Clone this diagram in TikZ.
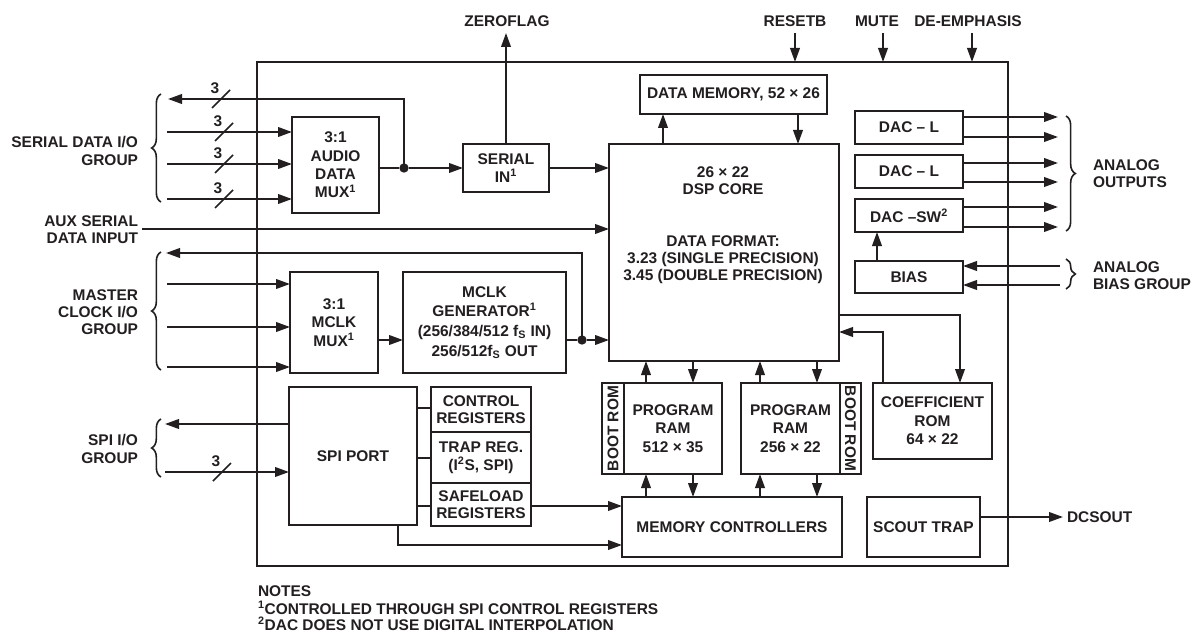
\documentclass[tikz,border=0pt]{standalone}
\usepackage{fontspec}
\setmainfont{Liberation Sans}
\usetikzlibrary{arrows.meta,decorations.pathreplacing,calc}
\definecolor{ink}{HTML}{231F20}
\newcommand\dfont{\fontsize{11.6pt}{12.8pt}\selectfont\bfseries}
\tikzset{
 every node/.style={font=\dfont, inner sep=0pt, outer sep=0pt, align=center, text=ink},
 wire/.style={line width=1.45pt, draw=ink},
 arr/.style={wire, -{Triangle[length=10.5pt,width=7.2pt]}},
 box/.style={draw=ink, line width=1.45pt, fill=white},
 dotc/.style={circle, fill=ink, minimum size=7pt},
 bus/.style={line width=1.2pt, draw=ink},
 br/.style={wire, line width=1.2pt, decorate, decoration={brace, amplitude=7pt}},
}
\newcommand\blk[7][]{\node[box,#1, minimum width={(#5-#3)*0.75pt}, minimum height={(#6-#4)*0.75pt}] (#2) at ({(#3+#5)/2},{(#4+#6)/2}) {#7};}
\newcommand\busmark[3]{\draw[bus] (#2-9,#3+9) -- (#2+9,#3-9); \node (#1) at (#2-6,#3-11) {3};}
\begin{document}
\begin{tikzpicture}[x=0.75pt,y=-0.75pt]
\path[use as bounding box] (0,0) rectangle (1193,635);
% chip outline
\blk[line width=2pt]{chip}{257}{62}{1008}{566}{}
% blocks
\blk{dmem}{640}{75}{827}{114}{DATA MEMORY, 52 × 26}
\blk{dsp}{609}{144}{839}{361}{}
\node (dspt1) at (723,181) {26 × 22\\DSP CORE};
\node (dspt2) at (723,260) {DATA FORMAT:\\3.23 (SINGLE PRECISION)\\3.45 (DOUBLE PRECISION)};
\blk{sin}{463}{144}{549}{192}{SERIAL\\[1pt]IN\textsuperscript{1}}
\blk{amux}{292}{117}{379}{213}{3:1\\[1pt]AUDIO\\[1pt]DATA\\[1pt]MUX\textsuperscript{1}}
\blk{cmux}{290}{272}{378}{373}{3:1\\[1pt]MCLK\\[1pt]MUX\textsuperscript{1}}
\blk{mgen}{403}{272}{566}{373}{MCLK\\[2pt]GENERATOR\textsuperscript{1}\\[2pt](256/384/512 f\textsubscript{S} IN)\\[2pt]256/512f\textsubscript{S} OUT}
\blk{dac1}{855}{111}{963}{144}{DAC – L}
\blk{dac2}{855}{155}{963}{188}{DAC – L}
\blk{dac3}{855}{199}{963}{232}{DAC –SW\textsuperscript{2}}
\blk{bias}{855}{261}{963}{293}{BIAS}
\blk{spiport}{289}{387}{417}{525}{SPI PORT}
\blk{creg}{431}{387}{531}{432}{CONTROL\\REGISTERS}
\blk{treg}{431}{432}{531}{483}{TRAP REG.\\[1pt](I\textsuperscript{2}S, SPI)}
\blk{sreg}{431}{483}{531}{526}{SAFELOAD\\REGISTERS}
\blk{boot1}{602}{383}{624}{474}{}
\node[rotate=90] (boot1t) at (boot1) {BOOT ROM};
\blk{pram1}{624}{383}{722}{474}{PROGRAM\\[1pt]RAM\\[1pt]512 × 35}
\blk{pram2}{741}{383}{840}{474}{PROGRAM\\[1pt]RAM\\[1pt]256 × 22}
\blk{boot2}{840}{383}{861}{474}{}
\node[rotate=-90] (boot2t) at (boot2) {BOOT ROM};
\blk{coef}{873}{383}{992}{459}{COEFFICIENT\\[1pt]ROM\\[1pt]64 × 22}
\blk{mctl}{622}{497}{842}{557}{MEMORY CONTROLLERS}
\blk{scout}{867}{497}{980}{557}{SCOUT TRAP}
% top signals
\node (zflab) at (507,21) {ZEROFLAG};
\coordinate (zf) at (506,33);
\draw[arr] (sin.north) -- (zf);
\node (rslab) at (795,21) {RESETB};
\coordinate (rs) at (795,33);
\draw[arr] (rs) -- (rs |- chip.north);
\node (mutelab) at (877,21) {MUTE};
\coordinate (mu) at (883,33);
\draw[arr] (mu) -- (mu |- chip.north);
\node (demlab) at (968,21) {DE-EMPHASIS};
\coordinate (de) at (972,33);
\draw[arr] (de) -- (de |- chip.north);
% data memory
\draw[arr] (dsp.north -| 663,0) -- (dmem.south -| 663,0);
\draw[arr] (dmem.south -| 798,0) -- (dsp.north -| 798,0);
% serial data group
\coordinate (sdo) at (168,99);
\coordinate (sd1) at (167,132);
\coordinate (sd2) at (167,164);
\coordinate (sd3) at (167,199);
\node[dotc] (dot1) at (404,168) {};
\draw[arr] (sd1) -- (amux.west |- sd1);
\draw[arr] (sd2) -- (amux.west |- sd2);
\draw[arr] (sd3) -- (amux.west |- sd3);
\draw[wire] (amux.east |- dot1) -- (dot1);
\draw[arr] (dot1.center) |- (sdo);
\draw[arr] (dot1) -- (sin.west |- dot1);
\draw[arr] (sin.east) -- (dsp.west |- sin.east);
\busmark{b0}{221}{99}
\busmark{b1}{224}{132}
\busmark{b2}{224}{164}
\busmark{b3}{224}{199}
\coordinate (sdbA) at (161,202);
\coordinate (sdbB) at (161,94);
\draw[br] (sdbA) -- (sdbB);
\node[anchor=east, align=right] (sdlab) at (138,151) {SERIAL DATA I/O\\GROUP};
% aux
\coordinate (aux) at (142,229);
\draw[arr] (aux) -- (dsp.west |- aux);
\node[anchor=east, align=right] (auxlab) at (138,230) {AUX SERIAL\\DATA INPUT};
% master clock
\coordinate (mco) at (166,253);
\coordinate (mc1) at (167,284);
\coordinate (mc2) at (167,327);
\coordinate (mc3) at (167,367);
\node[dotc] (dot2) at (582,340) {};
\draw[arr] (mc1) -- (cmux.west |- mc1);
\draw[arr] (mc2) -- (cmux.west |- mc2);
\draw[arr] (mc3) -- (cmux.west |- mc3);
\draw[arr] (cmux.east |- dot2) -- (mgen.west |- dot2);
\draw[wire] (mgen.east |- dot2) -- (dot2);
\draw[arr] (dot2) -- (dsp.west |- dot2);
\draw[arr] (dot2.center) |- (mco);
\coordinate (mcbA) at (161,370);
\coordinate (mcbB) at (161,252);
\draw[br] (mcbA) -- (mcbB);
\node[anchor=east, align=right] (mclab) at (138,312) {MASTER\\CLOCK I/O\\GROUP};
% DSP and coefficient ROM
\draw[arr] (dsp.east |- 0,315) -| (coef.north -| 960,0);
\draw[arr] (coef.north -| 883,0) |- (dsp.east |- 0,332);
% DAC outputs
\coordinate (ao1) at (1058,117);
\coordinate (ao2) at (1058,137);
\coordinate (ao3) at (1058,163);
\coordinate (ao4) at (1058,182);
\coordinate (ao5) at (1058,207);
\coordinate (ao6) at (1058,227);
\draw[arr] (dac1.east |- ao1) -- (ao1);
\draw[arr] (dac1.east |- ao2) -- (ao2);
\draw[arr] (dac2.east |- ao3) -- (ao3);
\draw[arr] (dac2.east |- ao4) -- (ao4);
\draw[arr] (dac3.east |- ao5) -- (ao5);
\draw[arr] (dac3.east |- ao6) -- (ao6);
\coordinate (abA) at (1066,116);
\coordinate (abB) at (1066,231);
\draw[br] (abA) -- (abB);
\node[anchor=west, align=left] (aolab) at (1093,174) {ANALOG\\OUTPUTS};
% bias
\coordinate (bi1) at (1060,266);
\coordinate (bi2) at (1060,285);
\draw[arr] (bi1) -- (bias.east |- bi1);
\draw[arr] (bi2) -- (bias.east |- bi2);
\draw[arr] (bias.north -| 877,0) -- (dac3.south -| 877,0);
\coordinate (bbA) at (1066,259);
\coordinate (bbB) at (1066,289);
\draw[br] (bbA) -- (bbB);
\node[anchor=west, align=left] (bilab) at (1093,276) {ANALOG\\BIAS GROUP};
% SPI
\coordinate (spiout) at (165,424);
\coordinate (spiin) at (165,472);
\draw[arr] (spiport.west |- spiout) -- (spiout);
\draw[arr] (spiin) -- (spiport.west |- spiin);
\busmark{b4}{222}{472}
\coordinate (spbA) at (161,477);
\coordinate (spbB) at (161,419);
\draw[br] (spbA) -- (spbB);
\node[anchor=east, align=right] (splab) at (138,449) {SPI I/O\\GROUP};
\draw[wire] (spiport.east |- 0,408) -- (creg.west |- 0,408);
\draw[wire] (spiport.east |- 0,458) -- (treg.west |- 0,458);
\draw[wire] (spiport.east |- 0,506) -- (sreg.west |- 0,506);
\draw[arr] (sreg.east |- 0,506) -- (mctl.west |- 0,506);
\draw[arr] (spiport.south -| 398,0) |- (mctl.west |- 0,545);
% program RAMs
\draw[arr] (pram1.north -| 646,0) -- (dsp.south -| 646,0);
\draw[arr] (dsp.south -| 693,0) -- (pram1.north -| 693,0);
\draw[arr] (pram2.north -| 760,0) -- (dsp.south -| 760,0);
\draw[arr] (dsp.south -| 817,0) -- (pram2.north -| 817,0);
\draw[arr] (mctl.north -| 646,0) -- (pram1.south -| 646,0);
\draw[arr] (pram1.south -| 693,0) -- (mctl.north -| 693,0);
\draw[arr] (mctl.north -| 760,0) -- (pram2.south -| 760,0);
\draw[arr] (pram2.south -| 817,0) -- (mctl.north -| 817,0);
% scout
\coordinate (dcs) at (1063,517);
\draw[arr] (scout.east |- dcs) -- (dcs);
\node[anchor=west] (dcslab) at (1067,517) {DCSOUT};
% notes
\node[anchor=west] (n0) at (258,591) {NOTES};
\node[anchor=west] (n1) at (258,608) {\textsuperscript{1}CONTROLLED THROUGH SPI CONTROL REGISTERS};
\node[anchor=west] (n2) at (258,624) {\textsuperscript{2}DAC DOES NOT USE DIGITAL INTERPOLATION};
\end{tikzpicture}
\end{document}
